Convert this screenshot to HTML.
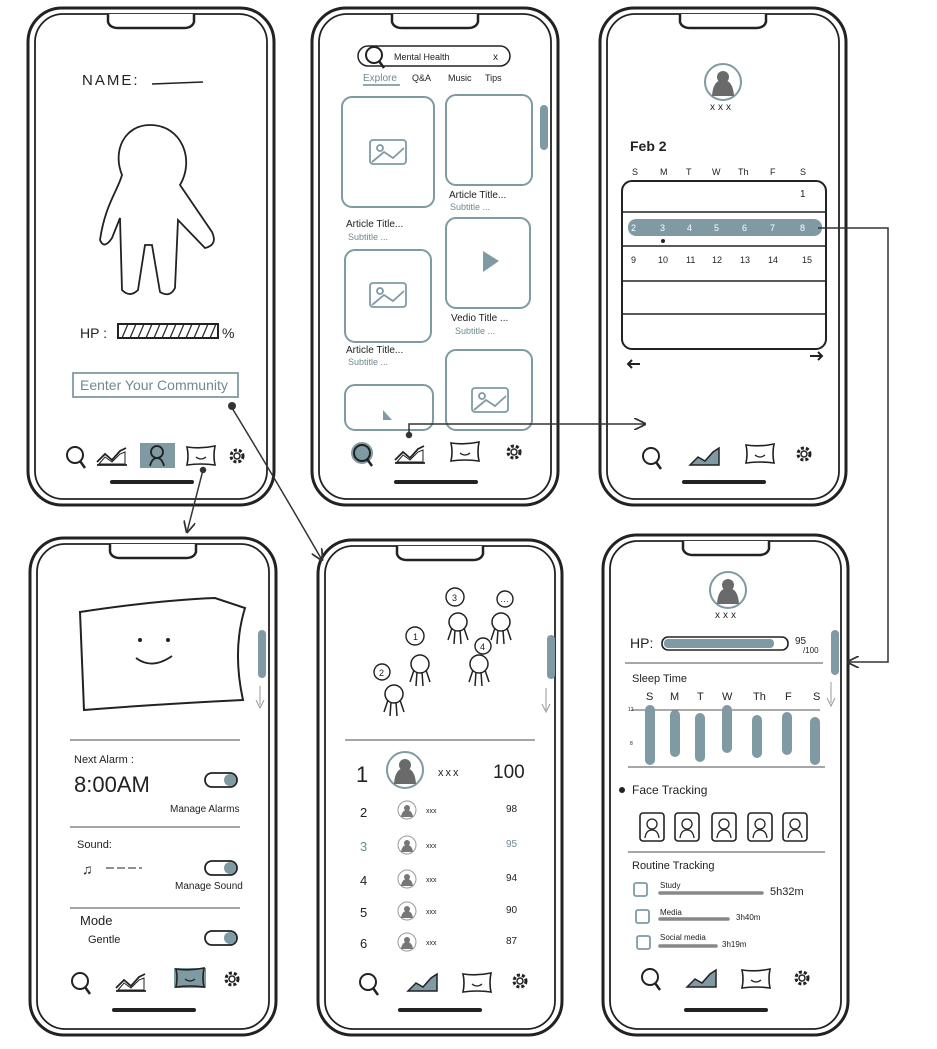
<!DOCTYPE html>
<html><head><meta charset="utf-8"><style>
html,body{margin:0;padding:0;background:#fff}
svg{display:block}
text{font-family:"Liberation Sans",sans-serif;fill:#222}
</style></head><body>
<svg width="937" height="1049" viewBox="0 0 937 1049" xmlns="http://www.w3.org/2000/svg">
<defs>
<g id="mag"><circle cx="0" cy="-3" r="8" fill="none" stroke="#222" stroke-width="2"/><line x1="5" y1="3" x2="10" y2="10" stroke="#222" stroke-width="2.5"/></g>
<g id="chart"><path d="M-15 9 L15 9 M-15 6 L-7 -2 L0 4 L8 -5 L14 -8" fill="none" stroke="#222" stroke-width="1.8"/><path d="M-13 8 L-7 1 L0 6 L8 -2 L13 -4 L13 8Z" fill="none" stroke="#222" stroke-width="1"/></g>
<g id="chartf"><path d="M-15 9 L-7 1 L0 5 L8 -4 L14 -8 L14 9Z" fill="#7f9aa3" stroke="#222" stroke-width="1.5"/></g>
<g id="pillow"><path d="M-14 -9 Q0 -7 14 -10 Q12 0 14 9 Q0 7 -14 9 Q-12 0 -14 -9Z" fill="none" stroke="#222" stroke-width="1.6"/><path d="M-5 1 Q0 5 5 1" fill="none" stroke="#222" stroke-width="1.2"/></g>
<g id="gear"><circle r="6" fill="none" stroke="#222" stroke-width="3" stroke-dasharray="3 2"/><circle r="3" fill="none" stroke="#222" stroke-width="1.5"/></g>
<g id="av"><circle r="18" fill="#fff" stroke="#7f9aa3" stroke-width="2"/><circle cy="-5" r="6" fill="#6a6a6a"/><path d="M-11 14 Q-10 -2 0 -2 Q10 -2 11 14Z" fill="#6a6a6a"/></g>
<g id="avs"><circle r="9" fill="#fff" stroke="#999" stroke-width="1"/><circle cy="-2" r="3" fill="#777"/><path d="M-6 7 Q-5 0 0 0 Q5 0 6 7Z" fill="#777"/></g>
<g id="fig"><circle cy="0" r="9" fill="#fff" stroke="#222" stroke-width="1.5"/><path d="M-6 6 L-10 18 M-3 8 L-4 22 M2 8 L3 22 M6 6 L10 18" stroke="#222" stroke-width="1.5" fill="none"/></g>
<g id="tog"><rect x="-16" y="-7" width="32" height="14" rx="7" fill="#fff" stroke="#222" stroke-width="1.8"/><circle cx="9" r="6" fill="#7f9aa3"/></g>
<g id="face"><rect x="-12" y="-14" width="24" height="28" rx="3" fill="none" stroke="#222" stroke-width="1.6"/><circle cy="-3" r="5" fill="none" stroke="#222" stroke-width="1.3"/><path d="M-7 11 Q-6 3 0 3 Q6 3 7 11" fill="none" stroke="#222" stroke-width="1.3"/></g>
<marker id="ar" viewBox="0 0 10 10" refX="9" refY="5" markerWidth="8" markerHeight="8" orient="auto"><path d="M0 0 L10 5 L0 10" fill="none" stroke="#333" stroke-width="1.5"/></marker>
</defs>

<!-- phone frames -->
<g fill="none" stroke="#222">
<rect x="28" y="8" width="246" height="497" rx="34" stroke-width="3"/><rect x="35" y="14" width="232" height="485" rx="28" stroke-width="1.8"/>
<rect x="312" y="8" width="246" height="497" rx="34" stroke-width="3"/><rect x="319" y="14" width="232" height="485" rx="28" stroke-width="1.8"/>
<rect x="600" y="8" width="246" height="497" rx="34" stroke-width="3"/><rect x="607" y="14" width="232" height="485" rx="28" stroke-width="1.8"/>
<rect x="30" y="538" width="246" height="497" rx="34" stroke-width="3"/><rect x="37" y="544" width="232" height="485" rx="28" stroke-width="1.8"/>
<rect x="318" y="540" width="244" height="495" rx="34" stroke-width="3"/><rect x="325" y="546" width="230" height="483" rx="28" stroke-width="1.8"/>
<rect x="603" y="535" width="245" height="500" rx="34" stroke-width="3"/><rect x="610" y="541" width="231" height="488" rx="28" stroke-width="1.8"/>
</g>
<!-- notches & home bars -->
<g fill="#fff" stroke="#222" stroke-width="2.5">
<path d="M108 14 L108 22 Q110 28 118 28 L184 28 Q192 28 194 22 L194 14"/>
<path d="M392 14 L392 22 Q394 28 402 28 L468 28 Q476 28 478 22 L478 14"/>
<path d="M680 14 L680 22 Q682 28 690 28 L756 28 Q764 28 766 22 L766 14"/>
<path d="M110 544 L110 552 Q112 558 120 558 L186 558 Q194 558 196 552 L196 544"/>
<path d="M397 546 L397 554 Q399 560 407 560 L473 560 Q481 560 483 554 L483 546"/>
<path d="M683 541 L683 549 Q685 555 693 555 L759 555 Q767 555 769 549 L769 541"/>
</g>
<g stroke="#222" stroke-width="4" stroke-linecap="round">
<line x1="112" y1="482" x2="192" y2="482"/><line x1="396" y1="482" x2="476" y2="482"/><line x1="684" y1="482" x2="764" y2="482"/>
<line x1="114" y1="1010" x2="194" y2="1010"/><line x1="400" y1="1010" x2="480" y2="1010"/><line x1="686" y1="1010" x2="766" y2="1010"/>
</g>

<!-- P1 -->
<text x="82" y="85" font-size="15" letter-spacing="2">NAME:</text><line x1="152" y1="84" x2="203" y2="82" stroke="#222" stroke-width="1.5"/>
<path d="M150 125 C125 125 112 150 122 175 C118 190 105 205 100 240 Q104 250 112 238 L120 218 L122 290 Q130 298 138 290 L145 245 L152 245 L160 292 Q170 298 175 288 L178 220 L205 248 Q218 245 212 232 L180 185 C195 160 182 125 150 125Z" fill="none" stroke="#222" stroke-width="1.8"/>
<text x="80" y="338" font-size="14">HP :</text>
<rect x="118" y="324" width="100" height="14" fill="none" stroke="#222" stroke-width="2"/>
<path d="M122 338 L128 324 M130 338 L136 324 M138 338 L144 324 M146 338 L152 324 M154 338 L160 324 M162 338 L168 324 M170 338 L176 324 M178 338 L184 324 M186 338 L192 324 M194 338 L200 324 M202 338 L208 324 M210 338 L216 324" stroke="#222" stroke-width="1.2"/>
<text x="222" y="338" font-size="14">%</text>
<rect x="73" y="373" width="165" height="24" fill="none" stroke="#7f9aa3" stroke-width="1.8"/>
<text x="80" y="390" font-size="14" fill="#6f8a93" style="fill:#6f8a93">Eenter Your Community</text>
<circle cx="232" cy="406" r="4" fill="#333"/>
<use href="#mag" x="75" y="458"/><use href="#chart" x="112" y="456"/>
<rect x="140" y="443" width="35" height="25" fill="#7f9aa3"/><circle cx="157" cy="452" r="6" fill="none" stroke="#222" stroke-width="1.8"/><path d="M150 466 Q152 458 157 458 Q162 458 164 466" fill="none" stroke="#222" stroke-width="1.8"/>
<use href="#pillow" x="201" y="456"/><use href="#gear" x="237" y="456"/>

<!-- P2 -->
<rect x="358" y="46" width="152" height="20" rx="10" fill="none" stroke="#222" stroke-width="1.5"/>
<use href="#mag" x="374" y="58" transform="scale(1)"/>
<text x="394" y="60" font-size="9">Mental Health</text><text x="493" y="60" font-size="10">x</text>
<text x="363" y="81" font-size="10" style="fill:#6f8a93">Explore</text><line x1="363" y1="85" x2="400" y2="85" stroke="#6f8a93" stroke-width="1.5"/>
<text x="412" y="81" font-size="9">Q&amp;A</text><text x="448" y="81" font-size="9">Music</text><text x="485" y="81" font-size="9">Tips</text>
<g fill="none" stroke="#7f9aa3" stroke-width="2">
<rect x="342" y="97" width="92" height="110" rx="10"/><rect x="446" y="95" width="86" height="90" rx="10"/>
<rect x="345" y="250" width="86" height="92" rx="10"/><rect x="446" y="218" width="84" height="90" rx="10"/>
<rect x="345" y="385" width="88" height="45" rx="10"/><rect x="446" y="350" width="86" height="80" rx="10"/>
</g>
<g fill="none" stroke="#7f9aa3" stroke-width="1.8">
<rect x="370" y="140" width="36" height="24" rx="3"/><circle cx="380" cy="148" r="3"/><path d="M372 162 L384 152 L393 158 L404 148"/>
<rect x="370" y="283" width="36" height="24" rx="3"/><circle cx="380" cy="291" r="3"/><path d="M372 305 L384 295 L393 301 L404 291"/>
<rect x="472" y="388" width="36" height="24" rx="3"/><circle cx="482" cy="396" r="3"/><path d="M474 410 L486 400 L495 406 L506 396"/>
</g>
<path d="M483 251 L483 272 L499 261Z" fill="#7f9aa3"/><path d="M383 410 L383 420 L392 420Z" fill="#7f9aa3"/>
<text x="346" y="227" font-size="10">Article Title...</text><text x="348" y="240" font-size="9" style="fill:#6f8a93">Subtitle ...</text>
<text x="449" y="198" font-size="10">Article Title...</text><text x="450" y="210" font-size="9" style="fill:#6f8a93">Subtitle ...</text>
<text x="346" y="353" font-size="10">Article Title...</text><text x="348" y="365" font-size="9" style="fill:#6f8a93">Subtitle ...</text>
<text x="451" y="321" font-size="10">Vedio Title ...</text><text x="455" y="334" font-size="9" style="fill:#6f8a93">Subtitle ...</text>
<rect x="540" y="105" width="8" height="45" rx="4" fill="#7f9aa3"/>
<circle cx="362" cy="453" r="11" fill="#7f9aa3"/><use href="#mag" x="362" y="456"/><use href="#chart" x="410" y="454"/><use href="#pillow" x="465" y="452"/><use href="#gear" x="514" y="452"/>

<!-- P3 -->
<use href="#av" x="723" y="82"/><text x="710" y="110" font-size="10" letter-spacing="3">xxx</text>
<text x="630" y="151" font-size="14" font-weight="bold">Feb 2</text>
<g font-size="9"><text x="632" y="175">S</text><text x="660" y="175">M</text><text x="686" y="175">T</text><text x="712" y="175">W</text><text x="738" y="175">Th</text><text x="770" y="175">F</text><text x="800" y="175">S</text></g>
<rect x="622" y="181" width="204" height="168" rx="10" fill="none" stroke="#222" stroke-width="2"/>
<text x="800" y="197" font-size="10">1</text>
<line x1="622" y1="212" x2="826" y2="212" stroke="#222" stroke-width="1.5"/>
<rect x="628" y="219" width="194" height="17" rx="8" fill="#7f9aa3"/>
<g font-size="9" style="fill:#fff"><text x="631" y="231" style="fill:#fff">2</text><text x="660" y="231" style="fill:#fff">3</text><text x="687" y="231" style="fill:#fff">4</text><text x="714" y="231" style="fill:#fff">5</text><text x="742" y="231" style="fill:#fff">6</text><text x="770" y="231" style="fill:#fff">7</text><text x="800" y="231" style="fill:#fff">8</text></g>
<circle cx="663" cy="241" r="2" fill="#222"/>
<line x1="622" y1="246" x2="826" y2="246" stroke="#222" stroke-width="1.5"/>
<g font-size="9"><text x="631" y="263">9</text><text x="658" y="263">10</text><text x="686" y="263">11</text><text x="712" y="263">12</text><text x="740" y="263">13</text><text x="768" y="263">14</text><text x="802" y="263">15</text></g>
<line x1="622" y1="281" x2="826" y2="281" stroke="#222" stroke-width="1.5"/>
<line x1="622" y1="314" x2="826" y2="314" stroke="#222" stroke-width="1.5"/>
<path d="M640 364 L628 364 M632 360 L628 364 L632 368 M810 356 L822 356 M818 352 L822 356 L818 360" stroke="#222" stroke-width="2" fill="none"/>
<use href="#mag" x="651" y="459"/><use href="#chartf" x="705" y="456"/><use href="#pillow" x="760" y="454"/><use href="#gear" x="804" y="454"/>

<!-- P4 -->
<path d="M80 612 Q160 600 215 598 L245 608 Q232 650 243 700 Q160 704 84 710 L80 612Z" fill="none" stroke="#222" stroke-width="2"/>
<circle cx="140" cy="640" r="2" fill="#222"/><circle cx="168" cy="640" r="2" fill="#222"/><path d="M136 658 Q152 670 172 656" fill="none" stroke="#222" stroke-width="1.8"/>
<rect x="258" y="630" width="8" height="48" rx="4" fill="#7f9aa3"/><path d="M260 686 L260 705 M256 700 L260 708 L264 700" stroke="#999" fill="none"/>
<line x1="70" y1="740" x2="240" y2="740" stroke="#888" stroke-width="1.5"/>
<text x="74" y="763" font-size="11">Next Alarm :</text>
<text x="74" y="792" font-size="22">8:00AM</text>
<use href="#tog" x="221" y="780"/>
<text x="170" y="812" font-size="10">Manage Alarms</text>
<line x1="70" y1="827" x2="240" y2="827" stroke="#888" stroke-width="1.5"/>
<text x="77" y="848" font-size="11">Sound:</text><text x="82" y="874" font-size="14">♫</text><path d="M106 868 L142 868" stroke="#222" stroke-dasharray="8 3"/>
<use href="#tog" x="221" y="868"/><text x="175" y="889" font-size="10">Manage Sound</text>
<line x1="70" y1="908" x2="240" y2="908" stroke="#888" stroke-width="1.5"/>
<text x="80" y="925" font-size="13">Mode</text><text x="88" y="943" font-size="11">Gentle</text><use href="#tog" x="221" y="938"/>
<use href="#mag" x="80" y="984"/><use href="#chart" x="131" y="982"/><rect x="174" y="968" width="32" height="20" fill="#7f9aa3"/><use href="#pillow" x="190" y="978"/><use href="#gear" x="232" y="979"/>

<!-- P5 -->
<g>
<use href="#fig" x="394" y="694"/><use href="#fig" x="420" y="664"/><use href="#fig" x="458" y="622"/><use href="#fig" x="501" y="622"/><use href="#fig" x="479" y="664"/>
<g fill="#fff" stroke="#222" stroke-width="1.4"><circle cx="382" cy="672" r="8"/><circle cx="415" cy="636" r="9"/><circle cx="455" cy="597" r="9"/><circle cx="505" cy="599" r="8"/><circle cx="483" cy="646" r="8"/></g>
<g font-size="9"><text x="379" y="676">2</text><text x="413" y="640">1</text><text x="452" y="601">3</text><text x="500" y="602">…</text><text x="480" y="650">4</text></g>
</g>
<rect x="547" y="635" width="8" height="44" rx="4" fill="#7f9aa3"/><path d="M546 688 L546 710 M542 704 L546 712 L550 704" stroke="#999" fill="none"/>
<line x1="345" y1="740" x2="535" y2="740" stroke="#888" stroke-width="1.5"/>
<text x="356" y="782" font-size="22">1</text><use href="#av" x="405" y="770"/><text x="438" y="776" font-size="11" letter-spacing="2">xxx</text><text x="493" y="778" font-size="19">100</text>
<g font-size="13"><text x="360" y="817">2</text><text x="360" y="851" style="fill:#6f8a93">3</text><text x="360" y="885">4</text><text x="360" y="917">5</text><text x="360" y="948">6</text></g>
<use href="#avs" x="407" y="810"/><use href="#avs" x="407" y="845"/><use href="#avs" x="407" y="879"/><use href="#avs" x="407" y="911"/><use href="#avs" x="407" y="942"/>
<g font-size="7"><text x="426" y="813">xxx</text><text x="426" y="848">xxx</text><text x="426" y="882">xxx</text><text x="426" y="914">xxx</text><text x="426" y="945">xxx</text></g>
<g font-size="10"><text x="506" y="812">98</text><text x="506" y="847" style="fill:#6f8a93">95</text><text x="506" y="881">94</text><text x="506" y="913">90</text><text x="506" y="944">87</text></g>
<use href="#mag" x="368" y="985"/><use href="#chartf" x="423" y="982"/><use href="#pillow" x="477" y="983"/><use href="#gear" x="520" y="981"/>

<!-- P6 -->
<use href="#av" x="728" y="590"/><text x="715" y="618" font-size="10" letter-spacing="3">xxx</text>
<text x="630" y="648" font-size="14">HP:</text>
<rect x="662" y="637" width="126" height="13" rx="6" fill="none" stroke="#222" stroke-width="1.6"/><rect x="664" y="639" width="110" height="9" rx="4" fill="#7f9aa3"/>
<text x="795" y="644" font-size="10">95</text><text x="803" y="653" font-size="8">/100</text>
<rect x="831" y="630" width="8" height="45" rx="4" fill="#7f9aa3"/><path d="M831 682 L831 703 M827 698 L831 706 L835 698" stroke="#999" fill="none"/>
<line x1="625" y1="663" x2="823" y2="663" stroke="#888" stroke-width="1.5"/>
<text x="632" y="682" font-size="11">Sleep Time</text>
<g font-size="11"><text x="646" y="700">S</text><text x="670" y="700">M</text><text x="697" y="700">T</text><text x="722" y="700">W</text><text x="753" y="700">Th</text><text x="785" y="700">F</text><text x="813" y="700">S</text></g>
<line x1="632" y1="710" x2="820" y2="710" stroke="#555" stroke-width="1"/>
<text x="628" y="711" font-size="5">12</text><text x="630" y="745" font-size="5">8</text>
<g stroke="#7f9aa3" stroke-width="10" stroke-linecap="round">
<line x1="650" y1="710" x2="650" y2="760"/><line x1="675" y1="715" x2="675" y2="752"/><line x1="700" y1="718" x2="700" y2="757"/><line x1="727" y1="710" x2="727" y2="748"/><line x1="757" y1="720" x2="757" y2="753"/><line x1="787" y1="717" x2="787" y2="750"/><line x1="815" y1="722" x2="815" y2="760"/>
</g>
<line x1="628" y1="767" x2="825" y2="767" stroke="#888" stroke-width="1.5"/>
<circle cx="622" cy="790" r="3" fill="#222"/><text x="632" y="794" font-size="12">Face Tracking</text>
<use href="#face" x="652" y="827"/><use href="#face" x="687" y="827"/><use href="#face" x="724" y="827"/><use href="#face" x="760" y="827"/><use href="#face" x="795" y="827"/>
<line x1="628" y1="852" x2="825" y2="852" stroke="#888" stroke-width="1.5"/>
<text x="632" y="869" font-size="11">Routine Tracking</text>
<g fill="none" stroke="#7f9aa3" stroke-width="1.8"><rect x="634" y="883" width="13" height="13" rx="2"/><rect x="636" y="910" width="13" height="13" rx="2"/><rect x="637" y="936" width="13" height="13" rx="2"/></g>
<g font-size="8"><text x="660" y="888">Study</text><text x="660" y="915">Media</text><text x="660" y="940">Social media</text></g>
<g stroke="#888" stroke-width="3.5" stroke-linecap="round"><line x1="660" y1="893" x2="762" y2="893"/><line x1="660" y1="919" x2="728" y2="919"/><line x1="660" y1="946" x2="716" y2="946"/></g>
<text x="770" y="895" font-size="11">5h32m</text><text x="736" y="920" font-size="8">3h40m</text><text x="722" y="947" font-size="8">3h19m</text>
<use href="#mag" x="650" y="980"/><use href="#chartf" x="702" y="978"/><use href="#pillow" x="756" y="979"/><use href="#gear" x="802" y="978"/>

<!-- connectors -->
<g fill="none" stroke="#333" stroke-width="1.5">
<path d="M232 408 Q270 470 322 560" marker-end="url(#ar)"/>
<path d="M203 470 L187 532" marker-end="url(#ar)"/>
<circle cx="203" cy="470" r="2.5" fill="#333"/>
<circle cx="409" cy="435" r="2.5" fill="#333"/>
<path d="M409 435 L409 424 L645 424" marker-end="url(#ar)"/>
<path d="M818 228 L888 228 L888 662 L848 662" marker-end="url(#ar)"/>
</g>
</svg>
</body></html>
